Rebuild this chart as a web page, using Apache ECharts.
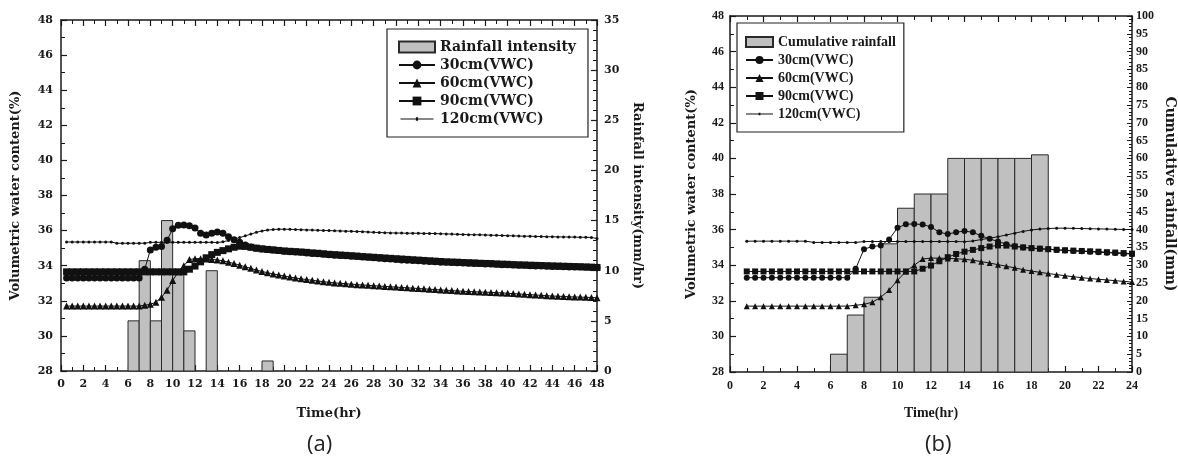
<!DOCTYPE html>
<html>
<head>
<meta charset="utf-8">
<script src="https://cdn.jsdelivr.net/npm/echarts@6/dist/echarts.min.js"></script>
<style>html,body{margin:0;padding:0;background:#fff}#c{width:1178px;height:469px}</style>
</head>
<body>
<div id="c"></div>
<script>
// ---- data ----
const times = [0.5,1,1.5,2,2.5,3,3.5,4,4.5,5,5.5,6,6.5,7,7.5,8,8.5,9,9.5,10,10.5,11,11.5,12,
  12.5,13,13.5,14,14.5,15,15.5,16,16.5,17,17.5,18,18.5,19,19.5,20,20.5,21,21.5,22,22.5,23,23.5,24,
  24.5,25,25.5,26,26.5,27,27.5,28,28.5,29,29.5,30,30.5,31,31.5,32,32.5,33,33.5,34,34.5,35,35.5,36,
  36.5,37,37.5,38,38.5,39,39.5,40,40.5,41,41.5,42,42.5,43,43.5,44,44.5,45,45.5,46,46.5,47,47.5,48];

const vwc30 = [33.3,33.3,33.3,33.3,33.3,33.3,33.3,33.3,33.3,33.3,33.3,33.3,33.3,33.3,
  33.8,34.9,35.05,35.1,35.45,36.1,36.3,36.32,36.28,36.15,
  35.85,35.75,35.85,35.92,35.85,35.65,35.48,35.33,35.18,35.07,
  35.0,34.95,34.92,34.89,34.86,34.83,34.8,34.78,34.76,34.73,
  34.7,34.68,34.65,34.62,
  34.6,34.58,34.56,34.54,34.52,34.5,34.48,34.46,34.43,34.4,34.38,34.35,
  34.33,34.31,34.3,34.28,34.26,34.24,34.22,34.2,34.19,34.18,34.17,34.15,
  34.14,34.13,34.12,34.1,34.09,34.08,34.06,34.05,
  34.04,34.03,34.02,34.0,33.99,33.98,33.97,33.96,
  33.95,33.94,33.93,33.92,33.92,33.91,33.9,33.88];

const vwc60 = [31.7,31.7,31.7,31.7,31.7,31.7,31.7,31.7,31.7,31.7,31.7,31.7,31.7,31.7,
  31.75,31.8,31.92,32.2,32.6,33.15,33.65,34.0,34.35,34.4,
  34.4,34.38,34.36,34.33,34.28,34.2,34.12,34.03,33.94,33.85,
  33.75,33.67,33.6,33.53,33.47,33.41,33.35,33.3,33.25,33.21,
  33.17,33.13,33.09,33.05,
  33.02,33.0,32.97,32.95,32.92,32.9,32.88,32.86,32.84,32.82,32.8,32.78,
  32.76,32.74,32.72,32.7,32.68,32.66,32.64,32.62,32.6,32.58,32.56,32.54,
  32.53,32.52,32.5,32.49,32.48,32.46,32.45,32.43,
  32.41,32.39,32.37,32.35,32.33,32.31,32.29,32.27,
  32.26,32.25,32.23,32.22,32.21,32.2,32.19,32.17];

const vwc90 = [33.65,33.65,33.65,33.65,33.65,33.65,33.65,33.65,33.65,33.65,33.65,
  33.65,33.65,33.65,33.65,33.65,33.65,33.65,33.65,33.65,33.65,33.65,
  33.8,33.98,34.22,34.45,34.63,34.76,34.86,34.96,35.05,35.11,35.1,35.05,
  35.0,34.96,34.93,34.9,34.87,34.84,34.82,34.8,34.78,34.76,
  34.73,34.71,34.68,34.65,
  34.63,34.61,34.59,34.57,34.55,34.52,34.5,34.48,34.46,34.44,34.42,34.4,
  34.38,34.36,34.34,34.32,34.3,34.28,34.26,34.24,34.22,34.21,34.2,34.18,
  34.17,34.16,34.14,34.13,34.12,34.1,34.09,34.08,
  34.06,34.05,34.04,34.03,34.02,34.01,34.0,33.99,
  33.98,33.97,33.96,33.95,33.94,33.93,33.92,33.9];

const vwc120 = [35.35,35.35,35.35,35.35,35.35,35.35,35.35,35.35,35.35,
  35.28,35.28,35.28,35.28,35.28,35.28,
  35.33,35.33,35.33,35.33,35.33,35.33,35.33,35.33,35.33,35.33,35.33,35.33,
  35.32,35.36,35.44,35.52,35.6,35.7,35.8,35.9,35.98,36.03,36.06,36.08,36.08,
  36.07,36.06,36.05,36.04,36.03,36.02,36.01,36.0,
  35.99,35.98,35.97,35.96,35.95,35.94,35.92,35.9,35.89,35.88,35.87,35.86,
  35.86,35.85,35.85,35.85,35.84,35.84,35.83,35.82,35.81,35.8,35.79,35.78,
  35.77,35.76,35.76,35.75,35.74,35.73,35.72,35.71,
  35.7,35.69,35.68,35.68,35.67,35.66,35.65,35.65,
  35.64,35.64,35.63,35.63,35.62,35.62,35.61,35.55];

// hourly rainfall intensity (bar starts at hour, 1 hour wide)
const rainStart = [6,7,8,9,10,11,13,18];
const rainIntensity = [5,11,5,15,10,4,10,1];

// cumulative rainfall
const cumStart = [6,7,8,9,10,11,12,13,14,15,16,17,18];
const cumRain = [5,16,21,36,46,50,50,60,60,60,60,60,61];

const seriesNames = ['30cm(VWC)','60cm(VWC)','90cm(VWC)','120cm(VWC)'];
const rainNameA = 'Rainfall intensity';
const rainNameB = 'Cumulative rainfall';

// ---- chart ----
const chart = echarts.init(document.getElementById('c'), null, {renderer:'canvas'});

const FA = 'DejaVu Serif';
const FB = 'Liberation Serif';
const ink = '#1a1a1a';

function pairs(x, y){ return x.map((t,i)=>[t, y[i]]); }

function barRender(params, api){
  const t = api.value(0), v = api.value(1);
  const p0 = api.coord([t, v]);
  const p1 = api.coord([t + 1, 0]);
  return {type:'rect', shape:{x:p0[0], y:p0[1], width:p1[0]-p0[0], height:p1[1]-p0[1]},
    style:{fill:'#c0c0c0', stroke:'#2a2a2a', lineWidth:1}};
}

function axisCommon(font, size){
  return {
    axisLine:{show:true, onZero:false, lineStyle:{color:ink, width:1.5}},
    axisTick:{show:true, inside:true, length:6, lineStyle:{color:ink, width:1.2}},
    minorTick:{show:true, length:3, lineStyle:{color:ink, width:1}},
    splitLine:{show:false},
    axisLabel:{color:ink, fontFamily:font, fontWeight:'bold', fontSize:size},
    nameTextStyle:{color:ink, fontFamily:font, fontWeight:'bold', fontSize:13}
  };
}

const lineStyles = [
  {symbol:'circle', sizeA:7, sizeB:6},
  {symbol:'triangle', sizeA:7, sizeB:6},
  {symbol:'rect', sizeA:7, sizeB:6},
  {symbol:'circle', sizeA:3, sizeB:3}
];
const dataSets = [vwc30, vwc60, vwc90, vwc120];

const series = [];
// chart (a)
series.push({type:'custom', name:rainNameA, xAxisIndex:0, yAxisIndex:1,
  renderItem:barRender, encode:{x:0, y:1}, z:1,
  itemStyle:{color:'#c0c0c0', borderColor:'#2a2a2a', borderWidth:1},
  data:pairs(rainStart, rainIntensity)});
dataSets.forEach((d,i)=>{
  series.push({type:'line', name:seriesNames[i], xAxisIndex:0, yAxisIndex:0,
    data:pairs(times, d), symbol:lineStyles[i].symbol, symbolSize:lineStyles[i].sizeA,
    showAllSymbol:true, z:3,
    lineStyle:{color:'#111', width:1}, itemStyle:{color:'#111'}});
});
// chart (b)
series.push({type:'custom', name:rainNameB, xAxisIndex:2, yAxisIndex:3,
  renderItem:barRender, encode:{x:0, y:1}, z:1,
  itemStyle:{color:'#c0c0c0', borderColor:'#2a2a2a', borderWidth:1},
  data:pairs(cumStart, cumRain)});
dataSets.forEach((d,i)=>{
  series.push({type:'line', name:seriesNames[i], xAxisIndex:2, yAxisIndex:2,
    data:pairs(times.slice(1,48), d.slice(1,48)), symbol:lineStyles[i].symbol, symbolSize:lineStyles[i].sizeB,
    showAllSymbol:true, z:3,
    lineStyle:{color:'#111', width:1}, itemStyle:{color:'#111'}});
});

const gridA = {left:61, top:20, width:536, height:351};
const gridB = {left:730, top:16, width:405, height:356};

// legend icon for the 120cm series: thin line with a tiny dot
const dotLineIcon = 'path://M0,9 H60 V11 H0 Z M28,7 H32 V13 H28 Z M0,0 H0.01 V20 H0 Z';

const legendDataA = [{name:rainNameA, icon:'rect'}, seriesNames[0], seriesNames[1], seriesNames[2],
  {name:seriesNames[3], icon:dotLineIcon}];
const legendDataB = [{name:rainNameB, icon:'rect'}, seriesNames[0], seriesNames[1], seriesNames[2],
  {name:seriesNames[3], icon:dotLineIcon}];

const option = {
  animation:false,
  backgroundColor:'#fff',
  grid:[gridA, gridB],
  xAxis:[
    Object.assign(axisCommon(FA,11), {type:'value', gridIndex:0, min:0, max:48, interval:2,
      minorTick:{show:true, splitNumber:2, length:4, lineStyle:{color:ink}},
      axisLabel:{color:ink, fontFamily:FA, fontWeight:'bold', fontSize:11, margin:8},
      name:'Time(hr)', nameLocation:'middle', nameGap:36}),
    Object.assign(axisCommon(FA,11), {type:'value', gridIndex:0, min:0, max:48, interval:2, position:'top',
      minorTick:{show:true, splitNumber:2, length:4, lineStyle:{color:ink}},
      axisLabel:{show:false}}),
    Object.assign(axisCommon(FB,12), {type:'value', gridIndex:1, min:0, max:24, interval:2,
      minorTick:{show:true, splitNumber:2, length:4, lineStyle:{color:ink}},
      axisLabel:{color:ink, fontFamily:FB, fontWeight:'bold', fontSize:12, margin:8},
      name:'Time(hr)', nameLocation:'middle', nameGap:34,
      nameTextStyle:{color:ink, fontFamily:FB, fontWeight:'bold', fontSize:14}}),
    Object.assign(axisCommon(FB,12), {type:'value', gridIndex:1, min:0, max:24, interval:2, position:'top',
      minorTick:{show:true, splitNumber:2, length:4, lineStyle:{color:ink}},
      axisLabel:{show:false}})
  ],
  yAxis:[
    Object.assign(axisCommon(FA,11), {type:'value', gridIndex:0, min:28, max:48, interval:2, position:'left',
      minorTick:{show:true, splitNumber:2, length:4, lineStyle:{color:ink}},
      name:'Volumetric water content(%)', nameLocation:'middle', nameGap:39}),
    Object.assign(axisCommon(FA,11), {type:'value', gridIndex:0, min:0, max:35, interval:5, position:'right',
      minorTick:{show:true, splitNumber:5, length:4, lineStyle:{color:ink}},
      axisLabel:{color:ink, fontFamily:FA, fontWeight:'bold', fontSize:11, margin:7},
      name:'Rainfall intensity(mm/hr)', nameLocation:'middle', nameGap:34, nameRotate:-90}),
    Object.assign(axisCommon(FB,12), {type:'value', gridIndex:1, min:28, max:48, interval:2, position:'left',
      minorTick:{show:true, splitNumber:2, length:4, lineStyle:{color:ink}},
      axisLabel:{color:ink, fontFamily:FB, fontWeight:'bold', fontSize:12, margin:6},
      name:'Volumetric water content(%)', nameLocation:'middle', nameGap:32,
      nameTextStyle:{color:ink, fontFamily:FA, fontWeight:'bold', fontSize:13}}),
    Object.assign(axisCommon(FB,12), {type:'value', gridIndex:1, min:0, max:100, interval:5, position:'right',
      minorTick:{show:true, splitNumber:5, length:3, lineStyle:{color:ink}},
      axisTick:{show:true, inside:true, length:5, lineStyle:{color:ink}},
      axisLabel:{color:ink, fontFamily:FB, fontWeight:'bold', fontSize:12, margin:4},
      name:'Cumulative rainfall(mm)', nameLocation:'middle', nameGap:31, nameRotate:-90,
      nameTextStyle:{color:ink, fontFamily:FA, fontWeight:'bold', fontSize:14}})
  ],
  legend:[
    {orient:'vertical', left:387, top:29, padding:[11,12,11,11], itemGap:4, itemWidth:36, itemHeight:11,
      borderColor:'#222', borderWidth:1.2, backgroundColor:'#fff', selectedMode:false,
      textStyle:{color:ink, fontFamily:FA, fontWeight:'bold', fontSize:14, lineHeight:13},
      data:legendDataA},
    {orient:'vertical', left:737, top:23, padding:[12,8,11,8], itemGap:4, itemWidth:27, itemHeight:10,
      borderColor:'#222', borderWidth:1.2, backgroundColor:'#fff', selectedMode:false,
      textStyle:{color:ink, fontFamily:FB, fontWeight:'bold', fontSize:14, lineHeight:14},
      data:legendDataB}
  ],
  graphic:[
    {type:'text', left:307, top:434, style:{text:'(a)', font:'22px "Open Sans"', fill:'#222'}},
    {type:'text', left:925, top:434, style:{text:'(b)', font:'22px "Open Sans"', fill:'#222'}}
  ],
  series:series
};
chart.setOption(option);
</script>
</body>
</html>
